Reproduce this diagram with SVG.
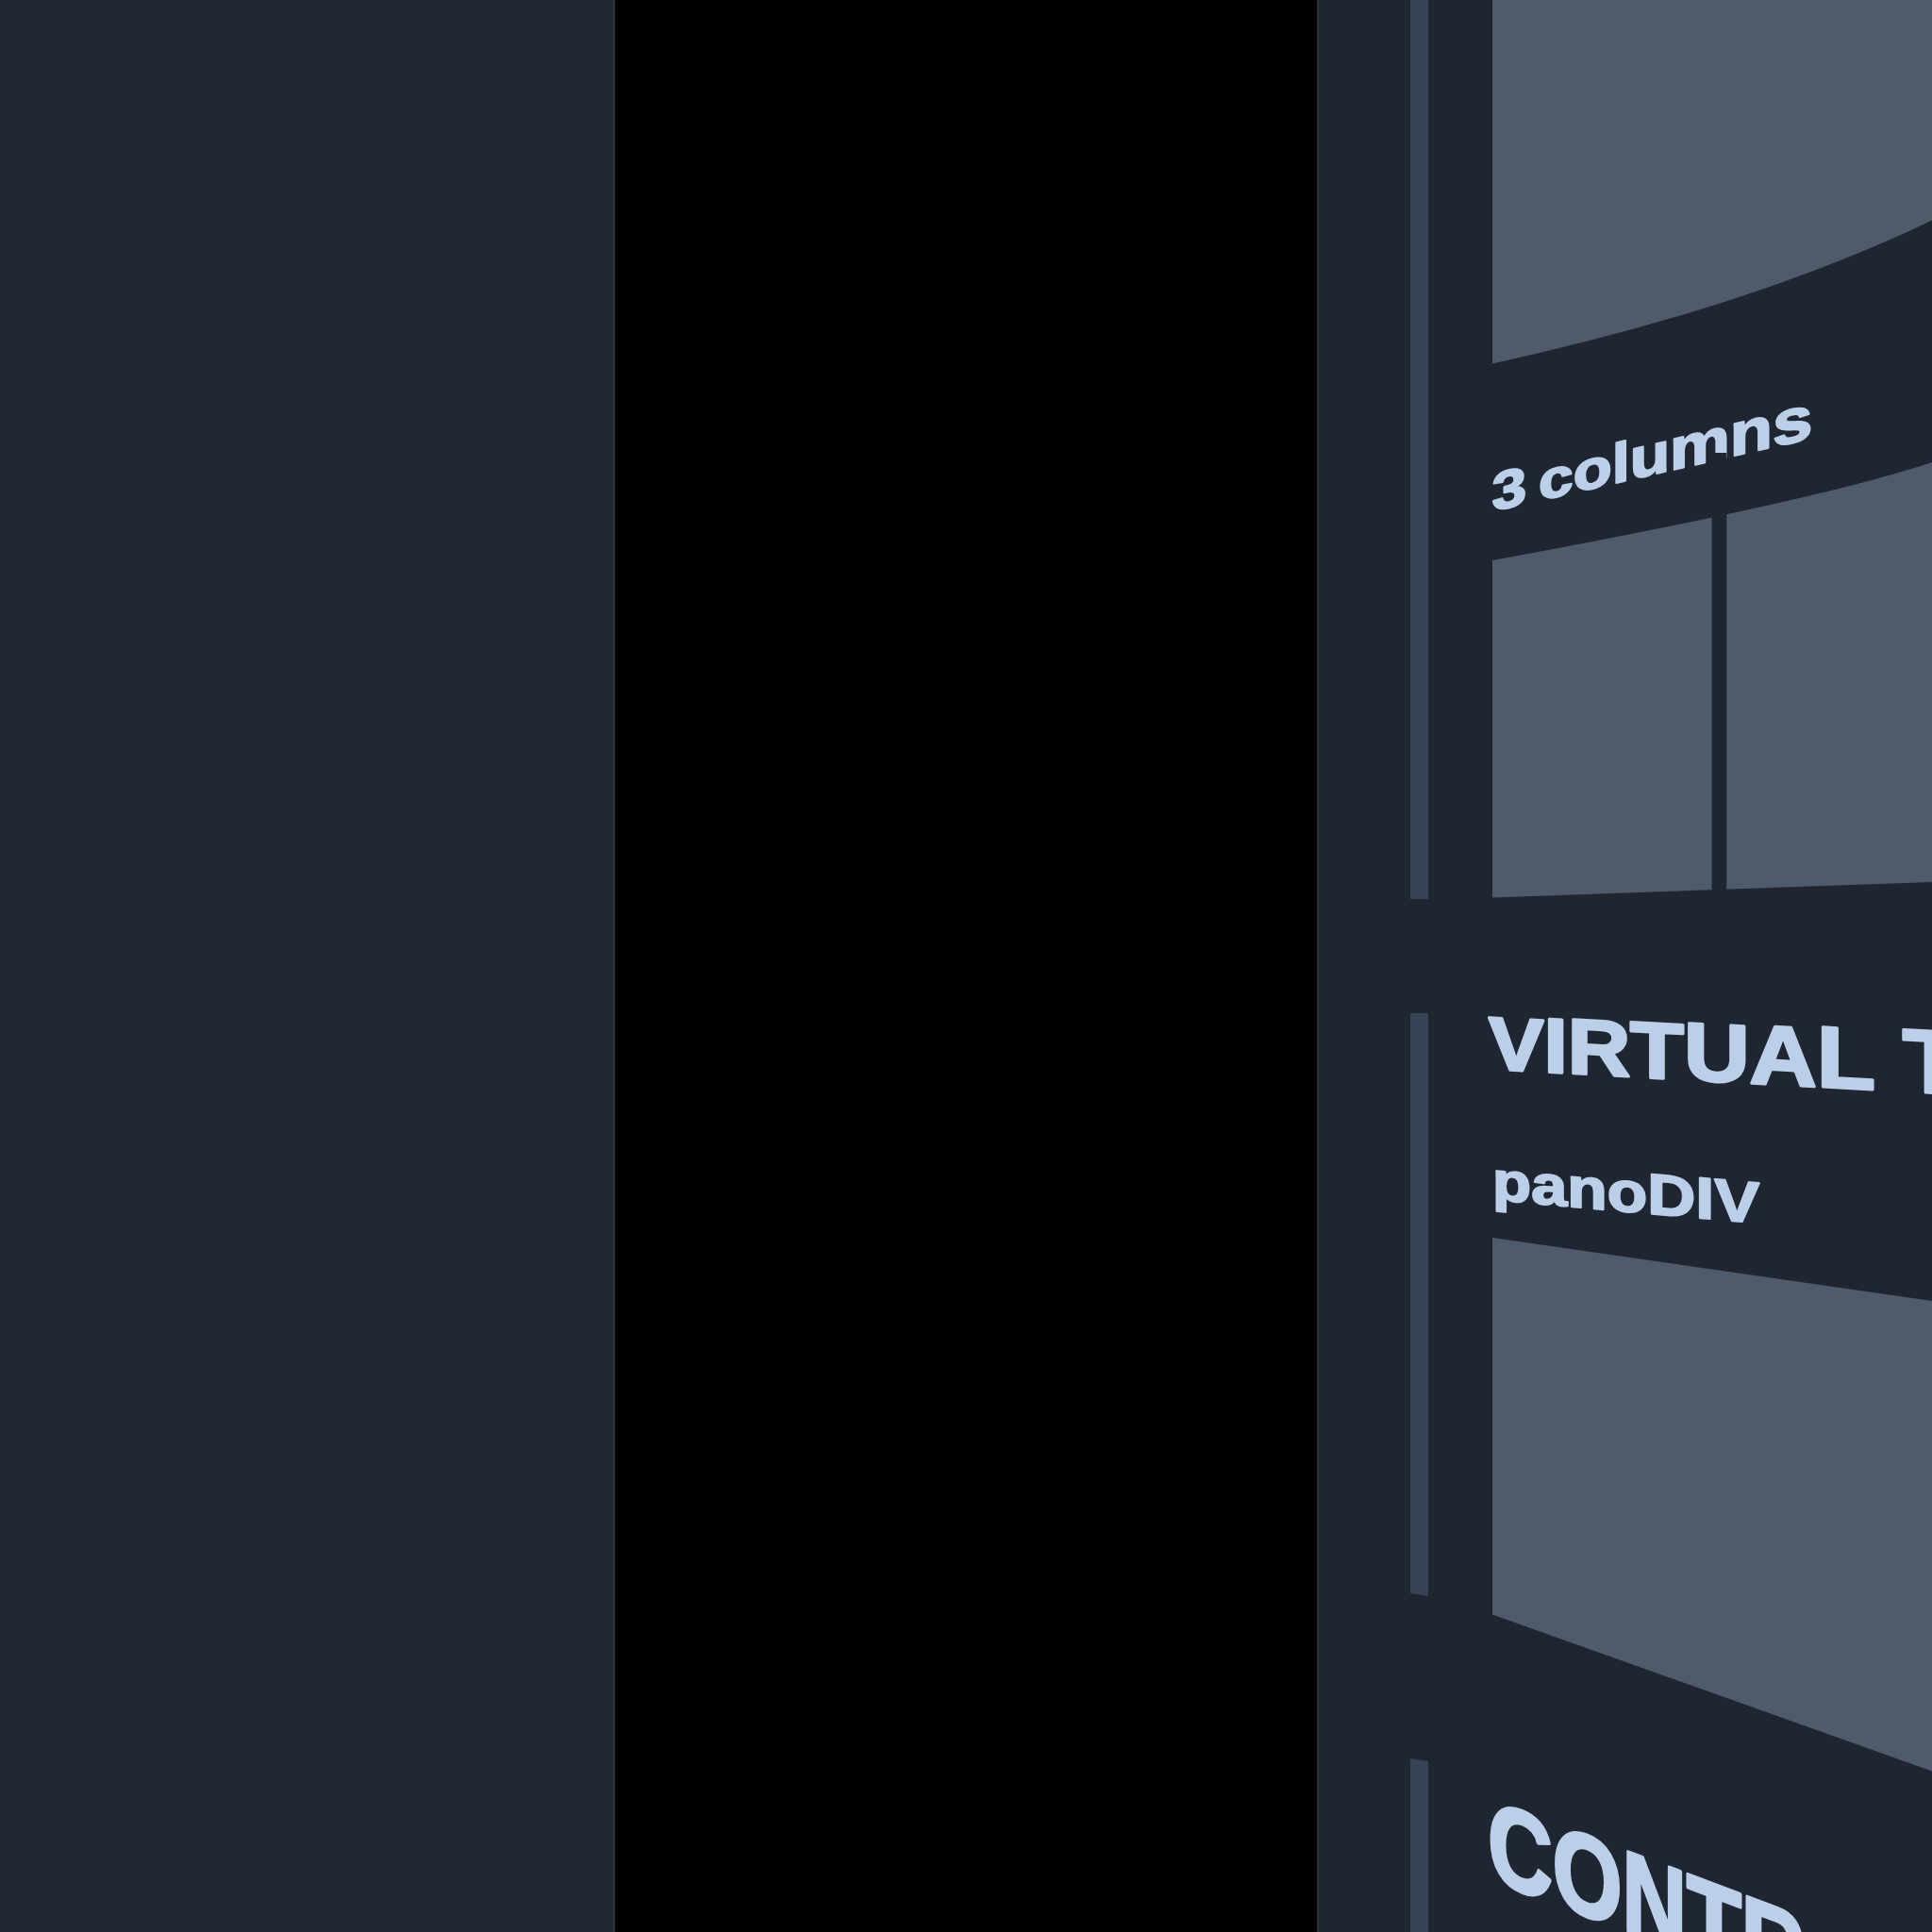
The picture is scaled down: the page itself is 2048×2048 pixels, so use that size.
<svg xmlns="http://www.w3.org/2000/svg" width="2048" height="2048" viewBox="0 0 2048 2048">
<style>
.lbl{font-family:"Liberation Sans",Arial,sans-serif;font-weight:700;fill:#bccfe8;stroke:#bccfe8;stroke-width:2.5;stroke-linejoin:round}
.panel{fill:#4f5b6b}
.strip{fill:#374354}
.bg{fill:#202631}
</style>
<g id="background">
<rect x="0" y="0" width="651" height="2048" fill="#222833"/>
<rect x="651" y="0" width="746" height="2048" fill="#000000"/>
<rect class="bg" x="1397" y="0" width="651" height="2048"/>
<rect x="650" y="0" width="2" height="2048" fill="#2c3440"/>
<rect x="1396" y="0" width="2" height="2048" fill="#2a323d"/>
</g>
<g id="side-strip">
<rect class="strip" x="1495" y="0" width="19" height="953"/>
<polygon class="strip" points="1495,1074 1514,1074 1514,1692 1495,1689"/>
<polygon class="strip" points="1495,1864 1514,1867 1514,2048 1495,2048"/>
</g>
<g id="top-panel">
<path class="panel" d="M1582,0 H2048 V233.5 Q1858,325 1582,385.5 Z"/>
</g>
<g id="label-3-columns">
<text class="lbl" transform="translate(1584,541.5) skewY(-12.9)" x="-2.5" textLength="340" lengthAdjust="spacingAndGlyphs" style="stroke-width:2"><tspan font-size="57">3</tspan><tspan font-size="40"> </tspan><tspan font-size="57">c</tspan><tspan font-size="58">o</tspan><tspan font-size="59">l</tspan><tspan font-size="60">u</tspan><tspan font-size="62">m</tspan><tspan font-size="64">n</tspan><tspan font-size="66">s</tspan></text>
</g>
<g id="column-panels">
<path class="panel" d="M1582,594 Q1930,530 2048,490 V935 L1582,951.6 Z"/>
<rect class="bg" x="1814.6" y="480" width="15.7" height="480"/>
</g>
<g id="label-virtual">
<text class="lbl" transform="translate(1578,1133) skewY(3.1)" x="0" textLength="503" lengthAdjust="spacingAndGlyphs" style="stroke-width:3"><tspan font-size="79">V</tspan><tspan font-size="82">I</tspan><tspan font-size="83">R</tspan><tspan font-size="84">T</tspan><tspan font-size="87">U</tspan><tspan font-size="89">A</tspan><tspan font-size="92">L</tspan><tspan font-size="93"> </tspan><tspan font-size="95">T</tspan></text>
</g>
<g id="label-panodiv">
<text class="lbl" transform="translate(1586.7,1272) skewY(5.1)" x="-4.6" textLength="283" lengthAdjust="spacingAndGlyphs" style="stroke-width:2"><tspan font-size="58">p</tspan><tspan font-size="59">a</tspan><tspan font-size="60">n</tspan><tspan font-size="60">o</tspan><tspan font-size="61">D</tspan><tspan font-size="62">I</tspan><tspan font-size="62">V</tspan></text>
</g>
<g id="lower-panel">
<polygon class="panel" points="1582,1312 2048,1379 2048,1877.5 1582,1711.5"/>
</g>
<g id="label-contr">
<text class="lbl" transform="translate(1582,1993) skewY(20.6)" x="-4.7" font-size="122" textLength="337" lengthAdjust="spacingAndGlyphs" style="stroke-width:4">CONTR</text>
</g>
</svg>
